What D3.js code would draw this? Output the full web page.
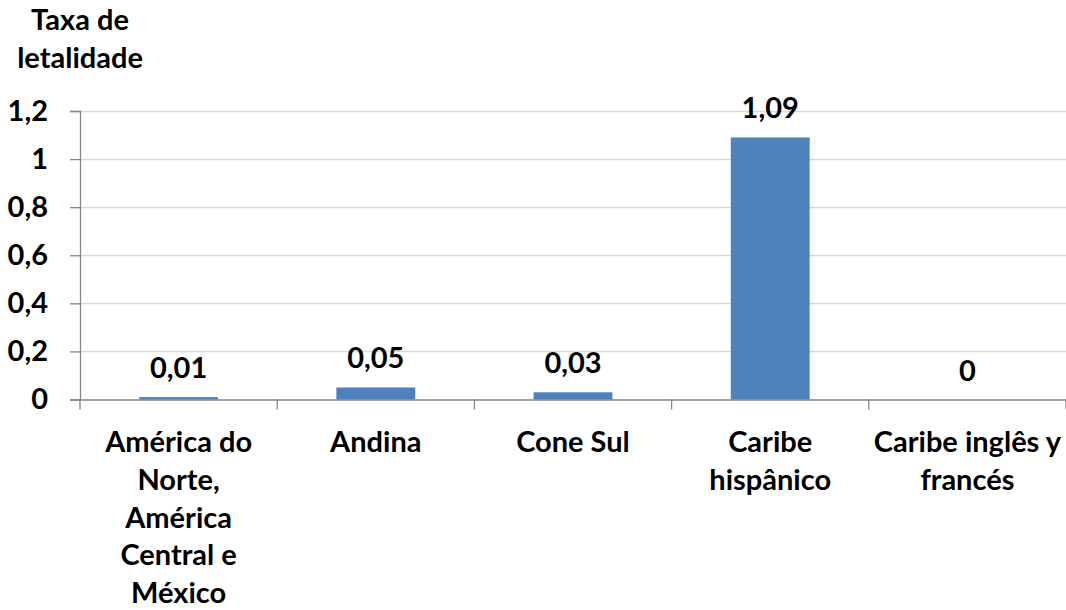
<!DOCTYPE html>
<html><head><meta charset="utf-8">
<script src="https://cdn.jsdelivr.net/npm/d3@7"></script>
<style>body{margin:0;background:#fff}svg{display:block}text{font-family:Lato,"Open Sans",sans-serif;font-weight:bold;fill:#000}</style>
</head><body><svg id="c" width="1066" height="610"></svg>
<script>
const categories = ["América do Norte, América Central e México","Andina","Cone Sul","Caribe hispânico","Caribe inglês y francés"];
const categoryLines = [["América do","Norte,","América","Central e","México"],["Andina"],["Cone Sul"],["Caribe","hispânico"],["Caribe inglês y","francés"]];
const values = [0.01,0.05,0.03,1.09,0];
const valueLabels = ["0,01","0,05","0,03","1,09","0"];
const yTicks = [0,0.2,0.4,0.6,0.8,1,1.2];
const yTitle = ["Taxa de","letalidade"];

const svg = d3.select("#c");
const fs = 29;
const m = {left:80, right:1066, top:111, bottom:399.5};
const x = d3.scaleBand().domain(categories).range([m.left, m.right]).padding(0);
const y = d3.scaleLinear().domain([0,1.2]).range([m.bottom, m.top]);
const fmt = v => String(v).replace(".", ",");

// gridlines
svg.append("g").selectAll("line").data(yTicks.filter(t=>t>0)).join("line")
  .attr("x1", m.left).attr("x2", m.right)
  .attr("y1", d=>Math.round(y(d))+0.5).attr("y2", d=>Math.round(y(d))+0.5)
  .attr("stroke","#d9d9d9").attr("stroke-width",1.5);

// y axis
const ya = svg.append("g").attr("transform",`translate(${m.left},0)`)
  .call(d3.axisLeft(y).tickValues(yTicks).tickFormat(fmt).tickSize(10).tickPadding(22));
ya.select(".domain").attr("stroke","#868686").attr("stroke-width",1.3);
ya.selectAll(".tick line").attr("stroke","#868686").attr("stroke-width",1.3);
ya.selectAll(".tick text").style("font-size",fs+"px").style("font-family","Lato").style("font-weight","bold").attr("fill","#000");

// x axis
const xa = svg.append("g").attr("transform",`translate(0,${m.bottom})`)
  .call(d3.axisBottom(x).tickSize(0).tickFormat(""));
xa.select(".domain").attr("stroke","#868686").attr("stroke-width",1.3);
const bounds = categories.map(c=>x(c)).concat([m.right]);
xa.append("g").selectAll("line").data(bounds).join("line")
  .attr("x1",d=>d).attr("x2",d=>d).attr("y1",0).attr("y2",10)
  .attr("stroke","#868686").attr("stroke-width",1.3);

// bars
const bw = x.bandwidth()*0.4;
svg.append("g").selectAll("rect").data(values).join("rect")
  .attr("x",(d,i)=>x(categories[i])+x.bandwidth()/2-bw/2)
  .attr("width",bw)
  .attr("y",d=>y(d)).attr("height",d=>y(0)-y(d))
  .attr("fill","#4f81bd");

// value labels
svg.append("g").selectAll("text").data(values).join("text")
  .attr("x",(d,i)=>x(categories[i])+x.bandwidth()/2)
  .attr("y",d=>y(d)-19)
  .attr("text-anchor","middle").style("font-size",fs+"px")
  .text((d,i)=>valueLabels[i]);

// category labels
const cl = svg.append("g");
categoryLines.forEach((lines,i)=>{
  const t = cl.append("text").attr("text-anchor","middle").style("font-size",fs+"px")
    .attr("x", x(categories[i])+x.bandwidth()/2).attr("y", 452);
  lines.forEach((ln,j)=>t.append("tspan").attr("x", x(categories[i])+x.bandwidth()/2).attr("dy", j===0?0:37.8).text(ln));
});

// y title
const tt = svg.append("text").attr("text-anchor","middle").style("font-size",fs+"px").attr("x",80).attr("y",30);
yTitle.forEach((ln,j)=>tt.append("tspan").attr("x",80).attr("dy",j===0?0:38).text(ln));
</script></body></html>
